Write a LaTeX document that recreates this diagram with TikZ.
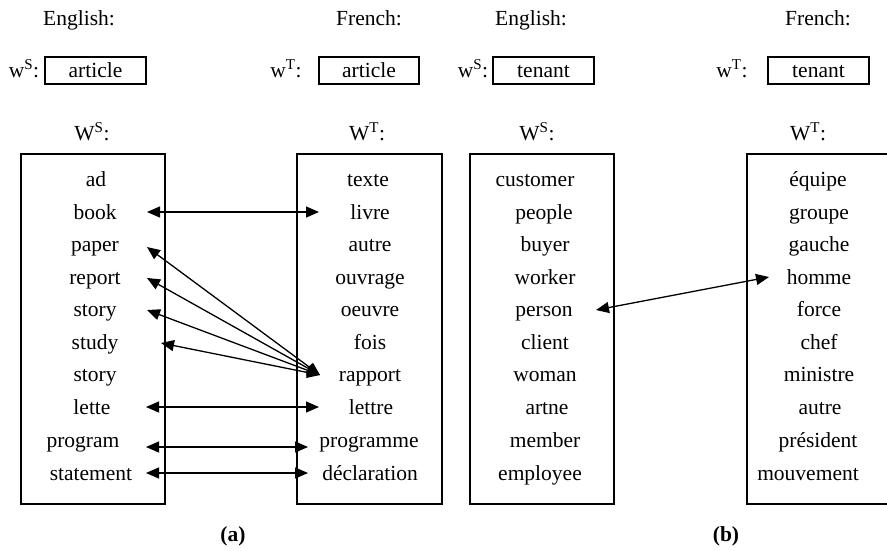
\documentclass[tikz,border=0pt]{standalone}
\usepackage{fontspec}
\setmainfont{Liberation Serif}
\usetikzlibrary{arrows.meta}

\tikzset{
  word/.style={inner sep=0pt, anchor=base, font=\fontsize{21.5}{24}\selectfont},
  listbox/.style={draw, line width=1.2pt},
  wordbox/.style={draw, line width=1.2pt},
  link/.style={line width=1.3pt, {Triangle[length=13pt,width=11pt]}-{Triangle[length=13pt,width=11pt]}},
  sublabel/.style={inner sep=0pt, anchor=base, font=\fontsize{21.5}{24}\selectfont\bfseries}
}

\begin{document}
\begin{tikzpicture}[x=1pt,y=-1pt]
\useasboundingbox (0,0) rectangle (887,550);

% ---------- panel (a): article ----------
\node[word] (engA) at (79,25) {English:};
\node[word] (frA)  at (369,25) {French:};

\node[word] (wsA) at (24,77.5) {w\textsuperscript{S}:};
\draw[wordbox] (45,57) rectangle (146,84);
\node[word] (artS) at (95.5,77.5) {article};
\node[word] (wtA) at (286,77.5) {w\textsuperscript{T}:};
\draw[wordbox] (319,57) rectangle (419,84);
\node[word] (artT) at (369,77.5) {article};

\node[word] (WsA) at (92,140.5) {W\textsuperscript{S}:};
\node[word] (WtA) at (367,140.5) {W\textsuperscript{T}:};

\draw[listbox] (21,154) rectangle (165,504);
\draw[listbox] (297,154) rectangle (442,504);

% source words
\node[word] (ad)    at (96,186.5) {ad};
\node[word] (book)  at (95,219) {book};
\node[word] (paper) at (95,251.5) {paper};
\node[word] (report)at (95,284) {report};
\node[word] (story1)at (95,316.5) {story};
\node[word] (study) at (95,349) {study};
\node[word] (story2)at (95,381.5) {story};
\node[word] (lette) at (92,414) {lette};
\node[word] (program) at (83,447.5) {program};
\node[word] (statement) at (91,480) {statement};

% target words
\node[word] (texte)  at (368,186.5) {texte};
\node[word] (livre)  at (370,219) {livre};
\node[word] (autreA) at (370,251.5) {autre};
\node[word] (ouvrage)at (370,284) {ouvrage};
\node[word] (oeuvre) at (370,316.5) {oeuvre};
\node[word] (fois)   at (370,349) {fois};
\node[word] (rapport)at (370,381.5) {rapport};
\node[word] (lettre) at (371,414) {lettre};
\node[word] (programme) at (369,447.5) {programme};
\node[word] (declaration) at (370,480) {déclaration};

% arrow ends beside the words
\coordinate (bookR)  at (147,212);
\coordinate (livreL) at (319,212);
\coordinate (paperR) at (147,247);
\coordinate (reportR) at (147,278);
\coordinate (storyR) at (147,310);
\coordinate (studyR) at (161,343);
\coordinate (rapportL) at (320,375);
\coordinate (letteR) at (146,407);
\coordinate (lettreL) at (319,407);
\coordinate (programR) at (146,447);
\coordinate (programmeL) at (308,447);
\coordinate (statementR) at (146,473);
\coordinate (declarationL) at (308,473);

\draw[link] (bookR) -- (livreL);
\draw[link] (paperR) -- (rapportL);
\draw[link] (reportR) -- (rapportL);
\draw[link] (storyR) -- (rapportL);
\draw[link] (studyR) -- (rapportL);
\draw[link] (letteR) -- (lettreL);
\draw[link] (programR) -- (programmeL);
\draw[link] (statementR) -- (declarationL);

\node[sublabel] (labA) at (233,541.5) {(a)};

% ---------- panel (b): tenant ----------
\node[word] (engB) at (531,25) {English:};
\node[word] (frB)  at (818,25) {French:};

\node[word] (wsB) at (473,77.5) {w\textsuperscript{S}:};
\draw[wordbox] (493,57) rectangle (594,84);
\node[word] (tenS) at (543.5,77.5) {tenant};
\node[word] (wtB) at (732,77.5) {w\textsuperscript{T}:};
\draw[wordbox] (768,57) rectangle (869,84);
\node[word] (tenT) at (818.5,77.5) {tenant};

\node[word] (WsB) at (537,140.5) {W\textsuperscript{S}:};
\node[word] (WtB) at (808,140.5) {W\textsuperscript{T}:};

\draw[listbox] (470,154) rectangle (614,504);
\draw[listbox] (747,154) rectangle (892,504);

\node[word] (customer) at (535,186.5) {customer};
\node[word] (people)   at (544,219) {people};
\node[word] (buyer)    at (545,251.5) {buyer};
\node[word] (worker)   at (545,284) {worker};
\node[word] (person)   at (544,316.5) {person};
\node[word] (client)   at (545,349) {client};
\node[word] (woman)    at (545,381.5) {woman};
\node[word] (artne)    at (547,414) {artne};
\node[word] (member)   at (545,447.5) {member};
\node[word] (employee) at (540,480) {employee};

\node[word] (equipe)    at (818,186.5) {équipe};
\node[word] (groupe)    at (819,219) {groupe};
\node[word] (gauche)    at (819,251.5) {gauche};
\node[word] (homme)     at (819,284) {homme};
\node[word] (force)     at (819,316.5) {force};
\node[word] (chef)      at (819,349) {chef};
\node[word] (ministre)  at (819,381.5) {ministre};
\node[word] (autreB)    at (820,414) {autre};
\node[word] (president) at (818,447.5) {président};
\node[word] (mouvement) at (808,480) {mouvement};

\coordinate (personR) at (596,310);
\coordinate (hommeL)  at (769,277);
\draw[link] (personR) -- (hommeL);

\node[sublabel] (labB) at (726,541.5) {(b)};
\end{tikzpicture}
\end{document}
